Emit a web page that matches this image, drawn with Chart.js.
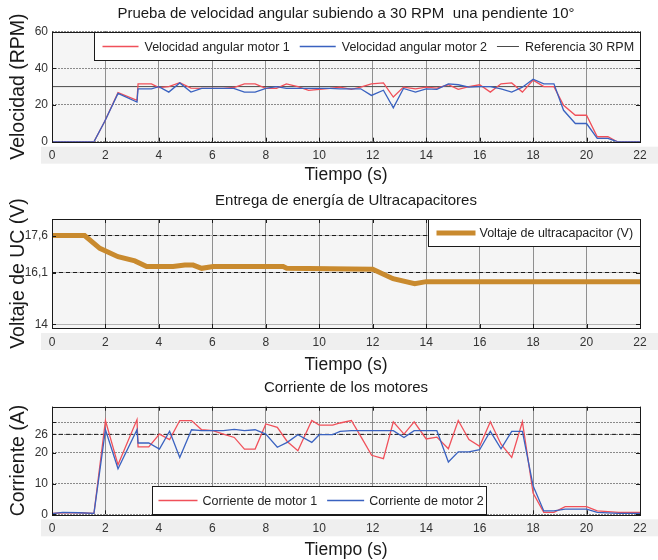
<!DOCTYPE html>
<html>
<head>
<meta charset="utf-8">
<script src="https://cdn.jsdelivr.net/npm/chart.js@4.4.1/dist/chart.umd.min.js"></script>
<style>
  html, body { margin: 0; padding: 0; background: #fff; overflow: hidden; }
  #wrap { position: relative; width: 658px; height: 560px; }
  #wrap canvas { position: absolute; left: 0; top: 0; }
</style>
</head>
<body>
<div id="wrap">
  <canvas id="speedChart" width="658" height="560"></canvas>
  <canvas id="voltageChart" width="658" height="560"></canvas>
  <canvas id="currentChart" width="658" height="560"></canvas>
</div>
<script>
// --- angular speed test (RPM) ---
const speedTime = [0, 1.57, 1.97, 2.47, 3.18, 3.22, 3.72, 4.0, 4.37, 4.78, 5.2, 5.6, 6.0, 6.4, 6.8, 7.2, 7.6,
    8.0, 8.4, 8.77, 9.2, 9.6, 10.0, 10.4, 10.78, 11.2, 11.55, 11.95, 12.4, 12.77, 13.15, 13.6, 14.0, 14.4,
    14.83, 15.2, 15.6, 16.0, 16.4, 16.8, 17.2, 17.6, 18.0, 18.4, 18.78, 19.14, 19.58, 20.0, 20.4, 20.8, 21.15, 22];
const speedMotor1 = [0, 0, 11, 26.7, 22.5, 31.5, 31.5, 29.4, 30, 32.1, 29.2, 29, 29, 29, 29.5, 31.5, 31.5,
    29, 29, 31.5, 30, 28, 28.5, 29, 29.7, 28.5, 29.7, 31.5, 32, 24.3, 29.7, 28.8, 29.7, 29.2,
    31, 28.5, 30, 31, 27, 31.5, 32, 27, 33.5, 30, 30, 19.8, 14.4, 14.4, 2.7, 2.7, 0, 0];
const speedMotor2 = [0, 0, 11, 26.3, 21.6, 28.8, 28.8, 30, 27, 32, 27, 29, 29, 29, 29, 27, 27,
    29, 30, 29, 29, 29, 29, 29, 28.8, 28.8, 28.8, 25.2, 28, 18.4, 29, 27, 28.8, 28.5,
    31.5, 31, 29.7, 30, 30, 28.8, 27, 29.7, 34, 31.5, 31.5, 17.1, 9.9, 9.9, 1.8, 1.8, 0, 0];
const speedRef = 30;
const speedTicks = [0, 20, 40, 60];

// --- ultracapacitor voltage (V) ---
const voltageTime = [0, 1.22, 1.79, 2.47, 3.1, 3.54, 4.53, 4.97, 5.28, 5.6, 6.03, 8.65, 8.78, 12.0, 12.76, 13.57, 14.0, 22];
const voltageUC = [17.6, 17.6, 17.08, 16.74, 16.57, 16.34, 16.34, 16.4, 16.4, 16.27, 16.34, 16.34, 16.27, 16.23, 15.85, 15.65, 15.73, 15.73];
const voltageRefs = [17.6, 16.1];
const voltageTicks = [14, 16.1, 17.6];
const voltageTickLabels = ['14', '16,1', '17,6'];

// --- motor current (A) ---
const currentTime = [0, 0.4, 1.0, 1.57, 2.0, 2.47, 3.18, 3.22, 3.62, 4.02, 4.4, 4.78, 5.22, 5.6, 6.02,
    6.41, 6.82, 7.2, 7.6, 8.0, 8.43, 8.8, 9.2, 9.72, 10.0, 10.5, 10.78, 11.2, 11.59, 11.96, 12.4, 12.77,
    13.17, 13.55, 14.0, 14.4, 14.83, 15.2, 15.6, 16.0, 16.4, 16.8, 17.2, 17.6, 18.0, 18.4, 18.78, 19.2,
    20.0, 20.4, 21.2, 22];
const currentMotor1 = [0.3, 0.5, 0.5, 0.3, 30.5, 16.1, 30.8, 21.9, 21.9, 26.1, 24.3, 30.5, 30.5, 27.5, 27.2,
    26.1, 25, 21.2, 21.2, 29.4, 28.3, 23.7, 20.7, 30.5, 29, 29, 29.7, 30.5, 24.8, 19.2, 18.1, 30.1,
    26.1, 30.1, 24.5, 25.1, 21.3, 30.5, 24.3, 22.1, 30.1, 22.8, 18.5, 30.1, 6.9, 0.65, 0.65, 2.5,
    2.5, 1.1, 0.65, 0.65];
const currentMotor2 = [0.2, 0.6, 0.5, 0.3, 27.5, 14.8, 27.5, 23.2, 23.2, 21.2, 27, 18.5, 27.5, 27.2, 27.2,
    27.2, 27.6, 27.2, 27.5, 26.1, 21.8, 23.4, 25.9, 23.4, 25.9, 25.9, 27, 27.2, 27.2, 27.2, 27.2, 27.2,
    25, 27.2, 27.2, 27.2, 17, 20.3, 20.3, 21, 27, 21.3, 27, 27, 9.3, 1.1, 1.1, 1.7,
    1.7, 0.65, 0.3, 0.3];
const currentRef = 26;
const currentTicks = [0, 10, 20, 26, 30];
const currentTickLabels = ['0', '10', '20', '26', ''];

const FONT = "'Liberation Sans', Arial, sans-serif";
const RED = '#f0505a';
const BLUE = '#3a62c0';
const ORANGE = '#c98a2e';

Chart.defaults.font.family = FONT;
Chart.defaults.color = '#222';

const toPoints = (xs, ys) => xs.map((x, i) => ({ x: x, y: ys[i] }));
const flat = (v) => [{ x: 0, y: v }, { x: 22, y: v }];

// light plot background, tick-label strip, black box and inward tick marks
const plotFrame = {
    id: 'plotFrame',
    beforeDraw(chart) {
        const { ctx, chartArea: a } = chart;
        ctx.save();
        ctx.fillStyle = '#efefef';
        ctx.fillRect(a.left - 11, a.bottom + 5, chart.width - a.left + 11, 17);
        ctx.fillStyle = '#f5f5f5';
        ctx.fillRect(a.left, a.top, a.right - a.left, a.bottom - a.top);
        ctx.restore();
    },
    afterDatasetsDraw(chart) {
        const { ctx, chartArea: a, scales } = chart;
        ctx.save();
        ctx.strokeStyle = '#1a1a1a';
        ctx.lineWidth = 1;
        ctx.beginPath();
        scales.x.ticks.forEach(t => {
            const px = Math.round(scales.x.getPixelForValue(t.value)) + 0.5;
            ctx.moveTo(px, a.top); ctx.lineTo(px, a.top + 4);
            ctx.moveTo(px, a.bottom); ctx.lineTo(px, a.bottom - 4);
        });
        scales.y.ticks.forEach(t => {
            const py = Math.round(scales.y.getPixelForValue(t.value)) + 0.5;
            ctx.moveTo(a.left, py); ctx.lineTo(a.left + 4, py);
            ctx.moveTo(a.right, py); ctx.lineTo(a.right - 4, py);
        });
        ctx.stroke();
        ctx.strokeRect(Math.round(a.left) + 0.5, Math.round(a.top) + 0.5,
            Math.round(a.right - a.left), Math.round(a.bottom - a.top));
        ctx.restore();
    }
};

// boxed legend drawn inside the plot area
const boxLegend = {
    id: 'boxLegend',
    afterDraw(chart, args, opts) {
        if (!opts.items) return;
        const { ctx, chartArea: a } = chart;
        const bx = Math.round(a.left + opts.x) + 0.5;
        const by = Math.round(opts.anchor === 'bottom' ? a.bottom - opts.height : a.top) + 0.5;
        ctx.save();
        ctx.fillStyle = '#fff';
        ctx.fillRect(bx, by, opts.width, opts.height);
        ctx.strokeStyle = '#1a1a1a';
        ctx.lineWidth = 1;
        ctx.strokeRect(bx, by, opts.width, opts.height);
        ctx.font = '12.5px ' + FONT;
        ctx.textBaseline = 'middle';
        const cy = by + opts.height / 2;
        let cx = bx + opts.pad;
        opts.items.forEach(item => {
            const ds = chart.data.datasets[item.dataset];
            ctx.strokeStyle = ds.borderColor;
            ctx.lineWidth = item.lineWidth || ds.borderWidth;
            ctx.setLineDash(ds.borderDash || []);
            ctx.beginPath();
            ctx.moveTo(cx, cy);
            ctx.lineTo(cx + item.sample, cy);
            ctx.stroke();
            ctx.setLineDash([]);
            cx += item.sample + opts.textGap;
            ctx.fillStyle = '#222';
            ctx.fillText(item.label, cx, cy + 1);
            cx += ctx.measureText(item.label).width + opts.itemGap;
        });
        ctx.restore();
    }
};

const timeAxis = (height, titlePad) => ({
    type: 'linear',
    min: 0,
    max: 22,
    ticks: { stepSize: 2, padding: 7, font: { size: 12 }, color: '#333' },
    grid: { color: '#8f8f8f', lineWidth: 1, drawTicks: false },
    border: { display: false },
    title: { display: true, text: 'Tiempo (s)', font: { size: 17.5, lineHeight: 1 }, color: '#1a1a1a', padding: { top: 0, bottom: titlePad } },
    afterFit: (scale) => { scale.height = height; }
});

const yTitle = (text) => ({
    display: true, text: text, color: '#1a1a1a',
    font: { size: 19.5, lineHeight: 1 }, padding: { top: 9, bottom: 0 }
});

const chartTitle = (text, top, bottom) => ({
    display: true, fullSize: false, text: text, color: '#1a1a1a',
    font: { size: 15, weight: 'normal', lineHeight: 1.2 }, padding: { top: top, bottom: bottom }
});

const lineSet = (label, data, color, width) => ({
    label: label, data: data, borderColor: color, backgroundColor: color,
    borderWidth: width, pointRadius: 0, tension: 0, fill: false
});

new Chart(document.getElementById('speedChart'), {
    type: 'line',
    data: {
        datasets: [
            lineSet('Velocidad angular motor 2', toPoints(speedTime, speedMotor2), BLUE, 1.3),
            lineSet('Velocidad angular motor 1', toPoints(speedTime, speedMotor1), RED, 1.3),
            lineSet('Referencia 30 RPM', flat(speedRef), '#4a4a4a', 1)
        ]
    },
    options: {
        responsive: false,
        animation: false,
        layout: { padding: { top: 0, bottom: 370, left: 0, right: 18 } },
        plugins: {
            legend: { display: false },
            tooltip: { enabled: false },
            title: chartTitle('Prueba de velocidad angular subiendo a 30 RPM  una pendiente 10°', 5, 8.5),
            boxLegend: {
                x: 42, width: 546, height: 28, anchor: 'top', pad: 8, textGap: 6, itemGap: 10,
                items: [
                    { label: 'Velocidad angular motor 1', dataset: 1, sample: 36, lineWidth: 1.6 },
                    { label: 'Velocidad angular motor 2', dataset: 0, sample: 36, lineWidth: 1.6 },
                    { label: 'Referencia 30 RPM', dataset: 2, sample: 22 }
                ]
            }
        },
        scales: {
            x: timeAxis(48.3, 6.25),
            y: {
                min: 0, max: 60,
                afterBuildTicks: (scale) => { scale.ticks = speedTicks.map(v => ({ value: v })); },
                ticks: { padding: 4, font: { size: 12 }, color: '#333' },
                grid: { color: '#8a8a8a', drawTicks: false },
                border: { display: false, dash: [2, 1] },
                title: yTitle('Velocidad (RPM)'),
                afterFit: (scale) => { scale.width = 52; }
            }
        }
    },
    plugins: [plotFrame, boxLegend]
});

new Chart(document.getElementById('voltageChart'), {
    type: 'line',
    data: {
        datasets: [
            lineSet('Voltaje de ultracapacitor (V)', toPoints(voltageTime, voltageUC), ORANGE, 5),
            Object.assign(lineSet('17,6', flat(voltageRefs[0]), '#1a1a1a', 1), { borderDash: [4, 3] }),
            Object.assign(lineSet('16,1', flat(voltageRefs[1]), '#1a1a1a', 1), { borderDash: [4, 3] })
        ]
    },
    options: {
        responsive: false,
        animation: false,
        layout: { padding: { top: 183, bottom: 180, left: 0, right: 18 } },
        plugins: {
            legend: { display: false },
            tooltip: { enabled: false },
            title: chartTitle('Entrega de energía de Ultracapacitores', 9, 9),
            boxLegend: {
                x: 376, width: 212, height: 27, anchor: 'top', pad: 8, textGap: 4, itemGap: 10,
                items: [{ label: 'Voltaje de ultracapacitor (V)', dataset: 0, sample: 39 }]
            }
        },
        scales: {
            x: timeAxis(52, 6.25),
            y: {
                min: 13.85, max: 18.27,
                afterBuildTicks: (scale) => { scale.ticks = voltageTicks.map(v => ({ value: v })); },
                ticks: {
                    padding: 4, font: { size: 12 }, color: '#333',
                    callback: (value, index) => voltageTickLabels[index]
                },
                grid: { color: '#b5b5b5', drawTicks: false },
                border: { display: false },
                title: yTitle('Voltaje de UC (V)'),
                afterFit: (scale) => { scale.width = 52; }
            }
        }
    },
    plugins: [plotFrame, boxLegend]
});

new Chart(document.getElementById('currentChart'), {
    type: 'line',
    data: {
        datasets: [
            lineSet('Corriente de motor 2', toPoints(currentTime, currentMotor2), BLUE, 1.3),
            lineSet('Corriente de motor 1', toPoints(currentTime, currentMotor1), RED, 1.3),
            Object.assign(lineSet('26', flat(currentRef), '#1a1a1a', 1), { borderDash: [4, 3] })
        ]
    },
    options: {
        responsive: false,
        animation: false,
        layout: { padding: { top: 370, bottom: 0, left: 0, right: 18 } },
        plugins: {
            legend: { display: false },
            tooltip: { enabled: false },
            title: chartTitle('Corriente de los motores', 9, 9.7),
            boxLegend: {
                x: 100, width: 334, height: 28, anchor: 'bottom', pad: 6, textGap: 5, itemGap: 10,
                items: [
                    { label: 'Corriente de motor 1', dataset: 1, sample: 39, lineWidth: 1.6 },
                    { label: 'Corriente de motor 2', dataset: 0, sample: 37, lineWidth: 1.6 }
                ]
            }
        },
        scales: {
            x: timeAxis(45.7, 1.25),
            y: {
                min: 0, max: 35,
                afterBuildTicks: (scale) => { scale.ticks = currentTicks.map(v => ({ value: v })); },
                ticks: {
                    padding: 4, font: { size: 12 }, color: '#333',
                    callback: (value, index) => currentTickLabels[index]
                },
                grid: { color: '#8a8a8a', drawTicks: false },
                border: { display: false, dash: [2, 1] },
                title: yTitle('Corriente (A)'),
                afterFit: (scale) => { scale.width = 52; }
            }
        }
    },
    plugins: [plotFrame, boxLegend]
});
</script>
</body>
</html>
